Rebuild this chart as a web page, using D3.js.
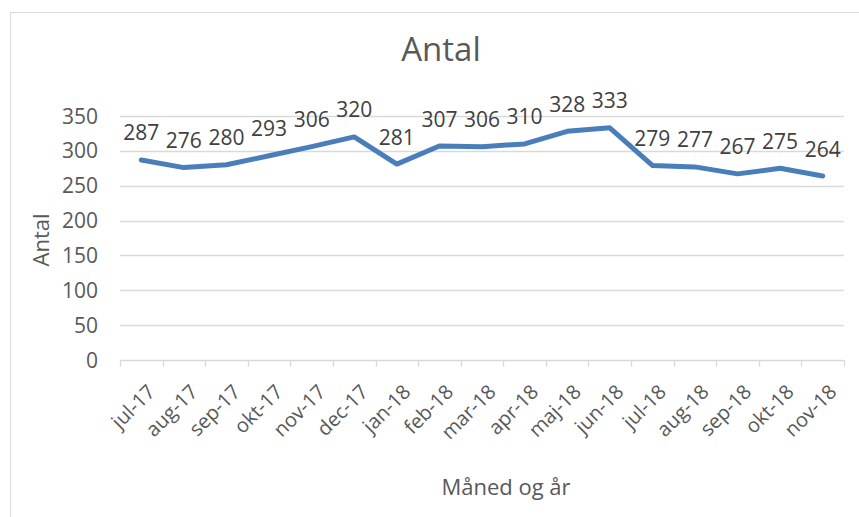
<!DOCTYPE html>
<html>
<head>
<meta charset="utf-8">
<script src="https://cdn.jsdelivr.net/npm/d3@7"></script>
<style>
  body { margin: 0; background: #fff; }
  svg { display: block; font-family: "Open Sans", sans-serif; }
</style>
</head>
<body>
<div id="chart"></div>
<script>
const months = ["jul-17", "aug-17", "sep-17", "okt-17", "nov-17", "dec-17", "jan-18", "feb-18", "mar-18",
  "apr-18", "maj-18", "jun-18", "jul-18", "aug-18", "sep-18", "okt-18", "nov-18"]
const antal = [287, 276, 280, 293, 306, 320, 281, 307, 306, 310, 328, 333, 279, 277, 267, 275, 264]
const yTicks = [0, 50, 100, 150, 200, 250, 300, 350]

const width = 859, height = 517
const margin = { left: 120, right: 15, top: 116, bottom: 157 }
const textColor = "#595959"

const svg = d3.select("#chart").append("svg")
  .attr("width", width)
  .attr("height", height)

// chart border
svg.append("rect")
  .attr("x", 10.5).attr("y", 12.5)
  .attr("width", width).attr("height", height)
  .attr("fill", "none")
  .attr("stroke", "#d9d9d9")

const x = d3.scaleBand()
  .domain(months)
  .range([margin.left, width - margin.right])

const y = d3.scaleLinear()
  .domain([0, 350])
  .range([height - margin.bottom, margin.top])

// gridlines
svg.append("g")
  .selectAll("line")
  .data(yTicks.slice(1))
  .join("line")
  .attr("x1", margin.left).attr("x2", width - margin.right)
  .attr("y1", d => Math.round(y(d)) + 0.5).attr("y2", d => Math.round(y(d)) + 0.5)
  .attr("stroke", "#d9d9d9")
  .attr("stroke-width", 1.3)

// y tick labels
svg.append("g")
  .selectAll("text")
  .data(yTicks)
  .join("text")
  .attr("x", 98)
  .attr("y", d => y(d))
  .attr("dy", "0.36em")
  .attr("text-anchor", "end")
  .attr("fill", textColor)
  .style("font-size", "21px")
  .text(d => d)

// x axis (ticks between categories)
const xAxis = d3.axisBottom(x).tickSize(0).tickFormat("")
const gx = svg.append("g")
  .attr("transform", `translate(0,${Math.round(y(0)) + 0.5})`)
  .call(xAxis)
gx.select(".domain").remove()
gx.append("line")
  .attr("x1", margin.left).attr("x2", width - margin.right)
  .attr("stroke", "#d9d9d9").attr("stroke-width", 1.3)
const bounds = months.map(m => x(m)).concat([x(months[months.length - 1]) + x.bandwidth()])
gx.selectAll(".tickmark")
  .data(bounds)
  .join("line")
  .attr("class", "tickmark")
  .attr("x1", d => Math.round(d) + 0.5).attr("x2", d => Math.round(d) + 0.5)
  .attr("y1", 0).attr("y2", 6)
  .attr("stroke", "#d9d9d9").attr("stroke-width", 1.3)

svg.append("g")
  .selectAll("text")
  .data(months)
  .join("text")
  .attr("transform", d => `translate(${x(d) + x.bandwidth() / 2 + 10},${y(0) + 28}) rotate(-45)`)
  .attr("text-anchor", "end")
  .attr("dy", "0.36em")
  .attr("fill", textColor)
  .style("font-size", "20px")
  .text(d => d)

// line
const line = d3.line()
  .x((d, i) => x(months[i]) + x.bandwidth() / 2)
  .y(d => y(d))

svg.append("path")
  .datum(antal)
  .attr("d", line)
  .attr("fill", "none")
  .attr("stroke", "#4a7ebb")
  .attr("stroke-width", 5)
  .attr("stroke-linejoin", "round")
  .attr("stroke-linecap", "round")

// data labels
svg.append("g")
  .selectAll("text")
  .data(antal)
  .join("text")
  .attr("x", (d, i) => x(months[i]) + x.bandwidth() / 2)
  .attr("y", d => y(d) - 27)
  .attr("dy", "0.36em")
  .attr("text-anchor", "middle")
  .attr("fill", "#404040")
  .style("font-size", "21px")
  .text(d => d)

// titles
svg.append("text")
  .attr("x", 441).attr("y", 49)
  .attr("dy", "0.36em")
  .attr("text-anchor", "middle")
  .attr("fill", textColor)
  .style("font-size", "33px")
  .text("Antal")

svg.append("text")
  .attr("transform", "translate(41,240) rotate(-90)")
  .attr("dy", "0.36em")
  .attr("text-anchor", "middle")
  .attr("fill", textColor)
  .style("font-size", "22px")
  .text("Antal")

svg.append("text")
  .attr("x", 506).attr("y", 487)
  .attr("dy", "0.36em")
  .attr("text-anchor", "middle")
  .attr("fill", textColor)
  .style("font-size", "22px")
  .text("Måned og år")
</script>
</body>
</html>
